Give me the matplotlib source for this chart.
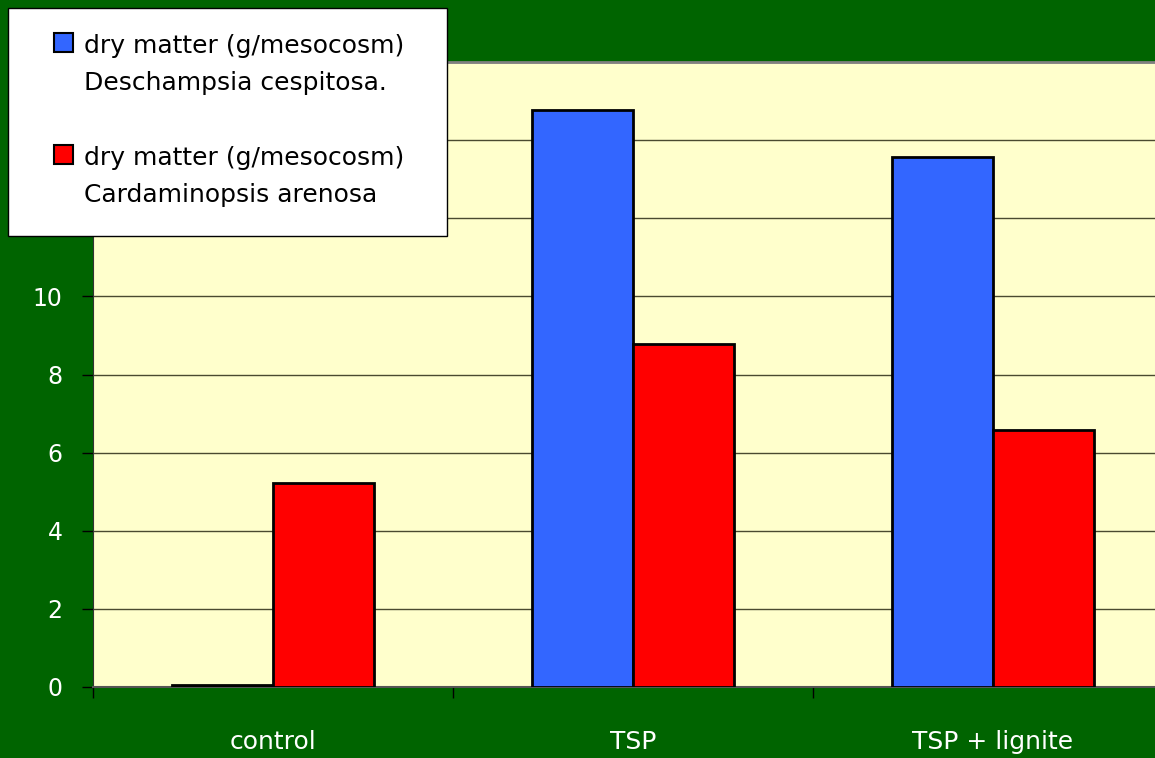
import numpy as np
import matplotlib
matplotlib.use("Agg")
import matplotlib.pyplot as plt
from matplotlib.patches import Rectangle

categories = ["control", "TSP", "TSP + lignite"]
deschampsia = [0.05, 14.78, 13.57]
cardaminopsis = [5.22, 8.79, 6.58]
labels = ["dry matter (g/mesocosm)\nDeschampsia cespitosa.",
          "dry matter (g/mesocosm)\nCardaminopsis arenosa"]
yticks = [0, 2, 4, 6, 8, 10]

GREEN = "#006400"
BLUE = "#3366FF"
RED = "#FF0000"

plt.rcParams['font.family'] = ['DejaVu Sans']

fig = plt.figure(figsize=(11.55, 7.58), dpi=100, facecolor=GREEN)
W, H = 1155, 758
ax = fig.add_axes([93 / W, (H - 687) / H, 1080 / W, 625 / H])
ax.set_facecolor("#FFFFCC")

x = np.arange(len(categories))
bw = 0.28
ax.bar(x - bw / 2, deschampsia, bw, color=BLUE, edgecolor="black", linewidth=2, zorder=3)
ax.bar(x + bw / 2, cardaminopsis, bw, color=RED, edgecolor="black", linewidth=2, zorder=3)

ax.set_xlim(-0.5, 2.5)
ax.set_ylim(0, 16)
ax.set_yticks(np.arange(0, 17, 2))
ax.set_yticklabels([str(v) if v in yticks else "" for v in range(0, 17, 2)])
ax.yaxis.grid(True, color="#4a4a30", linewidth=1, zorder=1)
ax.set_axisbelow(True)

ax.set_xticks(x)
ax.set_xticklabels(categories)
ax.set_xticks(np.arange(-0.5, 3, 1), minor=True)
ax.tick_params(axis="x", which="major", length=0, pad=31, labelsize=18, labelcolor="white")
ax.tick_params(axis="x", which="minor", length=8, width=1, color="black", direction="out")
ax.tick_params(axis="y", length=8, width=1, color="black", pad=14, labelsize=17, labelcolor="white")

ax.spines["right"].set_visible(False)
ax.spines["top"].set_color("#808080")
ax.spines["top"].set_linewidth(2)
ax.spines["left"].set_color("#333333")
ax.spines["bottom"].set_color("#555555")
ax.spines["bottom"].set_linewidth(1.5)

# legend box drawn in figure pixels
def fx(px):
    return px / W

def fy(py):
    return 1 - py / H

fig.patches.append(Rectangle((fx(8), fy(236)), fx(447) - fx(8), fy(8) - fy(236),
                             transform=fig.transFigure, facecolor="white",
                             edgecolor="black", linewidth=1, zorder=10))
for color, label, top in zip([BLUE, RED], labels, [33, 145]):
    fig.patches.append(Rectangle((fx(54), fy(top + 19)), fx(19), 19 / H,
                                 transform=fig.transFigure, facecolor=color,
                                 edgecolor="black", linewidth=1.5, zorder=11))
    fig.text(fx(84), fy(top + 1), label, ha="left", va="top", fontsize=18,
             linespacing=1.7, color="black", zorder=12)

fig.savefig("out.png", dpi=100, facecolor=GREEN)
